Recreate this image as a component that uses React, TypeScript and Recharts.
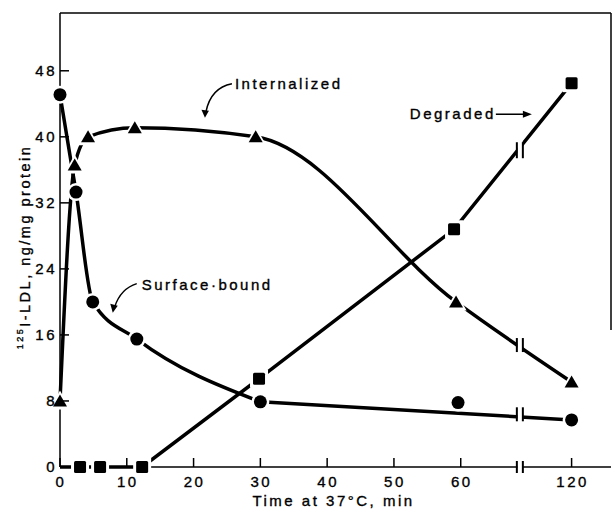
import { Line, LineChart, ReferenceDot, ReferenceLine, XAxis, YAxis } from "recharts";

// time axis is broken after 60 min; 60..120 is squeezed into a short tail
const BREAK_AT = 60;
const TAIL = 16.6 / 60;
const BREAK_MARK = 92; // minutes, where the "||" sits
const toAxis = (t: number) => (t <= BREAK_AT ? t : BREAK_AT + (t - BREAK_AT) * TAIL);
const fromAxis = (v: number) => Math.round(v <= BREAK_AT ? v : BREAK_AT + (v - BREAK_AT) / TAIL);

const surfaceTime = [0, 2.4, 4.9, 11.5, 30, 59.6, 120];
const surfaceValue = [45.1, 33.3, 20.0, 15.5, 7.9, 7.8, 5.7];
const internalTime = [0, 2.2, 4.2, 11.2, 29.3, 59.3, 120];
const internalValue = [8.0, 36.6, 40.0, 41.1, 40.0, 20.0, 10.3];
const degradedTime = [0, 3, 6, 12.3, 29.8, 59, 120];
const degradedValue = [0, 0, 0, 0, 10.7, 28.8, 46.5];

const xTicks = [0, 10, 20, 30, 40, 50, 60, 120];
const yTicks = [0, 8, 16, 24, 32, 40, 48];

const FONT = "'Liberation Sans', Arial, sans-serif";
const X_MAX = 82.5;
const Y_MAX = 55;
const SURFACE_SPLIT = 30; // after 30 min the surface-bound curve is a straight fit

const toRows = (times: number[], values: number[]) => times.map((t, i) => ({ x: toAxis(t), y: values[i], t }));
const valueAt = (times: number[], values: number[], t: number) => {
  for (let i = 1; i < times.length; i++) {
    if (t <= times[i]) {
      const f = (t - times[i - 1]) / (times[i] - times[i - 1]);
      return values[i - 1] + f * (values[i] - values[i - 1]);
    }
  }
  return values[values.length - 1];
};

const marker = (kind: "circle" | "triangle" | "square") => (props: any) => {
  const { cx, cy, index, payload } = props;
  if (cx == null || cy == null || payload?.t === 0 && kind === "square") return <g key={index} />;
  if (kind === "circle") {
    return (
      <g key={index}>
        <circle cx={cx} cy={cy} r={9} fill="#fff" />
        <circle cx={cx} cy={cy} r={6.5} fill="#000" />
      </g>
    );
  }
  if (kind === "square") {
    return (
      <g key={index}>
        <rect x={cx - 9} y={cy - 9} width={18} height={18} fill="#fff" />
        <rect x={cx - 6} y={cy - 6} width={12} height={12} rx={1.5} fill="#000" />
      </g>
    );
  }
  return (
    <g key={index}>
      <polygon points={`${cx},${cy - 10.5} ${cx - 10.5},${cy + 8.5} ${cx + 10.5},${cy + 8.5}`} fill="#fff" />
      <polygon points={`${cx},${cy - 6.5} ${cx - 7},${cy + 5.5} ${cx + 7},${cy + 5.5}`} fill="#000" />
    </g>
  );
};

const breakShape = (half: number) => (props: any) => {
  const { cx, cy } = props;
  return (
    <g>
      <rect x={cx - 2.5} y={cy - half - 2} width={5} height={half * 2 + 4} fill="#fff" />
      <line x1={cx - 3} y1={cy - half} x2={cx - 3} y2={cy + half} stroke="#000" strokeWidth={2} />
      <line x1={cx + 3} y1={cy - half} x2={cx + 3} y2={cy + half} stroke="#000" strokeWidth={2} />
    </g>
  );
};

const textStyle = { fontFamily: FONT, fontSize: 15, letterSpacing: 2.5, fill: "#000", stroke: "#000", strokeWidth: 0.35 };

function XTick(props: any) {
  const { x, y, payload } = props;
  return (
    <g>
      <line x1={x} y1={y} x2={x} y2={y - 9} stroke="#000" strokeWidth={1.5} />
      <text x={x + 1} y={y + 20} textAnchor="middle" style={textStyle}>{fromAxis(payload.value)}</text>
    </g>
  );
}

function YTick(props: any) {
  const { x, y, payload } = props;
  return (
    <g>
      <line x1={x} y1={y} x2={x + 9} y2={y} stroke="#000" strokeWidth={1.5} />
      <text x={x - 3} y={y + 5} textAnchor="end" style={textStyle}>{payload.value}</text>
    </g>
  );
}

const internalizedNote = (props: any) => {
  const { cx, cy } = props;
  return (
    <g>
      <path d={`M ${cx + 27} ${cy - 34} Q ${cx + 6} ${cy - 30} ${cx + 1} ${cy - 6}`} fill="none" stroke="#000" strokeWidth={1.5} />
      <polygon points={`${cx},${cy} ${cx - 3.5},${cy - 8} ${cx + 4},${cy - 7}`} fill="#000" />
      <text x={cx + 30} y={cy - 29} style={textStyle}>Internalized</text>
    </g>
  );
};

const surfaceNote = (props: any) => {
  const { cx, cy } = props;
  return (
    <g>
      <path d={`M ${cx + 24} ${cy - 29} Q ${cx + 8} ${cy - 24} ${cx + 2} ${cy - 6}`} fill="none" stroke="#000" strokeWidth={1.5} />
      <polygon points={`${cx},${cy} ${cx - 2.5},${cy - 9} ${cx + 5},${cy - 7}`} fill="#000" />
      <text x={cx + 29} y={cy - 23} style={textStyle}>Surface·bound</text>
    </g>
  );
};

const degradedNote = (props: any) => {
  const { cx, cy } = props;
  return (
    <g>
      <line x1={cx - 24} y1={cy - 36} x2={cx + 4} y2={cy - 36} stroke="#000" strokeWidth={1.5} />
      <polygon points={`${cx + 12},${cy - 36} ${cx + 3},${cy - 39.5} ${cx + 3},${cy - 32.5}`} fill="#000" />
      <text x={cx - 110} y={cy - 31} style={textStyle}>Degraded</text>
    </g>
  );
};

export default function App() {
  const surface = toRows(surfaceTime, surfaceValue);
  const surfaceEarly = surface.filter((r) => r.t <= SURFACE_SPLIT);
  const late = surface.filter((r) => r.t >= SURFACE_SPLIT);
  const surfaceFit = [late[0], late[late.length - 1]];
  const internal = toRows(internalTime, internalValue);
  const degraded = toRows(degradedTime, degradedValue);
  const bx = toAxis(BREAK_MARK);
  const surfaceBreakY = valueAt([late[0].t, late[late.length - 1].t], [late[0].y, late[late.length - 1].y], BREAK_MARK);
  return (
    <div style={{ width: 613, height: 509, background: "#fff" }}>
      <style>{"body{margin:0}"}</style>
      <LineChart width={613} height={509} margin={{ top: 13, right: 2, bottom: 0, left: 0 }}>
        <XAxis
          type="number"
          dataKey="x"
          domain={[0, X_MAX]}
          ticks={xTicks.map(toAxis)}
          interval={0}
          height={42}
          tickSize={0}
          tickMargin={0}
          tickLine={false}
          tick={XTick}
          axisLine={{ stroke: "#000", strokeWidth: 1.5 }}
          label={(p: any) => (
            <text x={p.viewBox.x + p.viewBox.width / 2 - 2} y={506} textAnchor="middle" style={textStyle}>
              Time at 37°C, min
            </text>
          )}
        />
        <YAxis
          type="number"
          domain={[0, Y_MAX]}
          ticks={yTicks}
          interval={0}
          width={60}
          tickSize={0}
          tickMargin={0}
          tickLine={false}
          tick={YTick}
          axisLine={{ stroke: "#000", strokeWidth: 1.5 }}
          label={() => (
            <text transform="rotate(-90)" x={-247} y={30} textAnchor="middle" style={{ ...textStyle, fontSize: 14.5, letterSpacing: 2.5 }}>
              <tspan fontSize={9} dy={-7}>125</tspan>
              <tspan dy={7}>I-LDL, ng/mg protein</tspan>
            </text>
          )}
        />
        <ReferenceLine y={Y_MAX} stroke="#000" strokeWidth={1.5} />
        <ReferenceLine segment={[{ x: X_MAX, y: Y_MAX }, { x: X_MAX, y: 16.6 }]} stroke="#000" strokeWidth={1.5} />

        <Line data={surfaceEarly} dataKey="y" type="monotone" stroke="#000" strokeWidth={3.5} dot={false} activeDot={false} isAnimationActive={false} />
        <Line data={surfaceFit} dataKey="y" type="linear" stroke="#000" strokeWidth={3.5} dot={false} activeDot={false} isAnimationActive={false} />
        <Line data={internal} dataKey="y" type="monotone" stroke="#000" strokeWidth={3.5} dot={marker("triangle")} activeDot={false} isAnimationActive={false} />
        <Line data={degraded} dataKey="y" type="linear" stroke="#000" strokeWidth={3.5} dot={marker("square")} activeDot={false} isAnimationActive={false} />
        <Line data={surface} dataKey="y" stroke="none" dot={marker("circle")} activeDot={false} isAnimationActive={false} />

        <ReferenceDot x={bx} y={0} ifOverflow="visible" shape={breakShape(6)} />
        <ReferenceDot x={bx} y={surfaceBreakY} ifOverflow="visible" shape={breakShape(7)} />
        <ReferenceDot x={bx} y={valueAt(internalTime, internalValue, BREAK_MARK)} ifOverflow="visible" shape={breakShape(7)} />
        <ReferenceDot x={bx} y={valueAt(degradedTime, degradedValue, BREAK_MARK)} ifOverflow="visible" shape={breakShape(8)} />

        <ReferenceDot x={21.7} y={42.3} ifOverflow="visible" shape={internalizedNote} />
        <ReferenceDot x={7.9} y={18.7} ifOverflow="visible" shape={surfaceNote} />
        <ReferenceDot x={bx} y={valueAt(degradedTime, degradedValue, BREAK_MARK)} ifOverflow="visible" shape={degradedNote} />
      </LineChart>
    </div>
  );
}
